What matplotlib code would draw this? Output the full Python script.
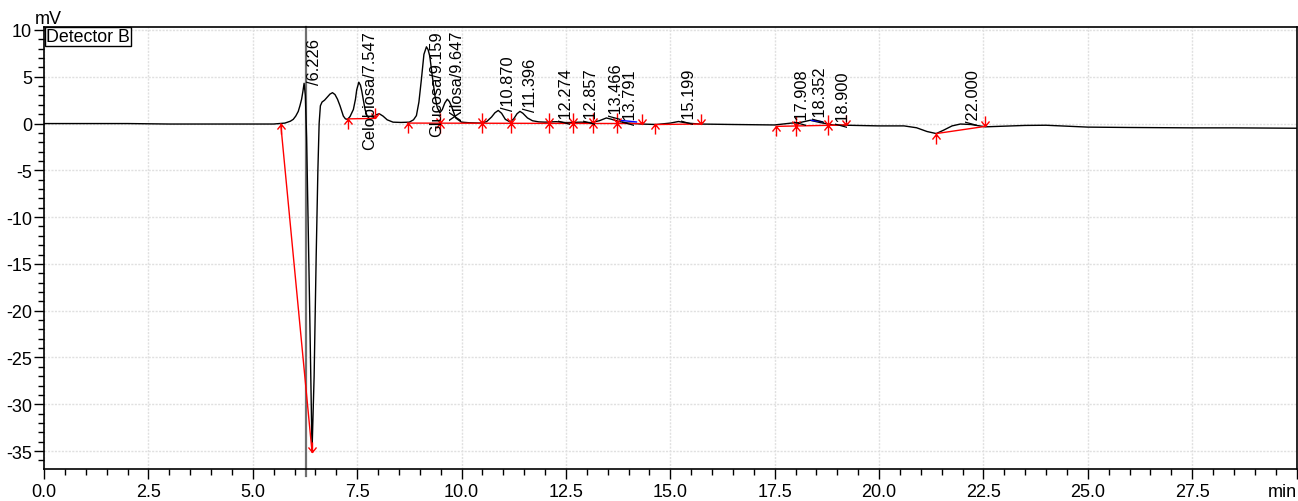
import numpy as np
import matplotlib
matplotlib.use("Agg")
import matplotlib.pyplot as plt
from matplotlib.path import Path
from matplotlib.markers import MarkerStyle
from matplotlib import transforms

plt.rcParams['font.family'] = ['Liberation Sans', 'DejaVu Sans']
plt.rcParams['axes.unicode_minus'] = False

# ---- chromatogram trace (time in min, signal in mV) ----
time = [0.0, 1.0, 2.0, 3.0, 4.0, 5.0, 5.5, 5.77, 5.9, 5.97, 6.03, 6.09, 6.13, 6.17, 6.2, 6.23,
        6.26, 6.29, 6.32, 6.36, 6.39, 6.42, 6.45, 6.47, 6.52, 6.56, 6.59, 6.62, 6.66, 6.72, 6.78,
        6.85, 6.91, 6.97, 7.03, 7.09, 7.17, 7.22, 7.27, 7.33, 7.41, 7.46, 7.49, 7.54, 7.58, 7.61,
        7.65, 7.69, 7.74, 7.80, 7.88, 7.96, 8.03, 8.12, 8.22, 8.36, 8.55, 8.75, 8.85, 8.92, 8.98,
        9.04, 9.10, 9.16, 9.20, 9.24, 9.32, 9.37, 9.42, 9.48, 9.54, 9.60, 9.66, 9.71, 9.76, 9.86,
        10.0, 10.2, 10.45, 10.6, 10.72, 10.8, 10.88, 10.96, 11.05, 11.16, 11.25, 11.33, 11.40,
        11.47, 11.58, 11.70, 11.85, 12.0, 12.27, 12.5, 12.86, 13.1, 13.3, 13.47, 13.6, 13.79,
        14.0, 14.3, 14.67, 15.0, 15.2, 15.4, 15.7, 16.5, 17.5, 17.9, 18.1, 18.35, 18.6, 18.9,
        19.5, 20.0, 20.6, 20.9, 21.15, 21.37, 21.55, 21.75, 21.95, 22.2, 22.55, 23.0, 23.5,
        24.0, 24.5, 25.0, 26.0, 27.5, 28.5, 30.0]
signal = [0.0, 0.0, 0.0, -0.05, -0.05, -0.05, -0.05, 0.05, 0.25, 0.45, 0.8, 1.3, 1.9, 2.6, 3.4, 4.3,
          3.0, -1.5, -9.0, -19.0, -27.3, -35.0, -30.0, -27.0, -14.0, -5.0, 0.0, 1.9, 2.3, 2.5, 2.8,
          3.15, 3.3, 3.1, 2.6, 1.9, 0.8, 0.5, 0.45, 0.75, 1.5, 2.6, 3.6, 4.42, 4.1, 3.5,
          2.5, 1.5, 0.8, 0.5, 0.6, 0.95, 1.05, 0.8, 0.4, 0.15, 0.12, 0.15, 0.4, 0.85, 2.3,
          4.75, 7.4, 8.2, 7.9, 7.2, 4.4, 2.8, 1.7, 1.14, 1.5, 2.2, 2.6, 2.35, 1.85, 0.6,
          0.15, 0.08, 0.05, 0.2, 0.7, 1.15, 1.4, 1.1, 0.45, 0.18, 0.5, 1.05, 1.3,
          1.1, 0.6, 0.3, 0.18, 0.15, 0.2, 0.1, 0.15, 0.1, 0.3, 0.6, 0.45, 0.2,
          0.05, -0.05, -0.1, 0.05, 0.22, 0.05, -0.05, -0.1, -0.15, 0.05, 0.1, 0.35, 0.1, -0.15,
          -0.2, -0.25, -0.25, -0.45, -0.85, -1.07, -0.7, -0.25, -0.05, -0.1, -0.35, -0.28, -0.2,
          -0.18, -0.28, -0.38, -0.42, -0.46, -0.46, -0.5]

# ---- peak annotations ----
peak_rt = [6.226, 7.547, 9.159, 9.647, 10.870, 11.396, 12.274, 12.857, 13.466, 13.791,
           15.199, 17.908, 18.352, 18.900, 22.000]
peak_name = ["", "Celobiosa", "Glucosa", "Xilosa", "", "", "", "", "", "",
             "", "", "", "", ""]
peak_height = [4.2, 4.42, 8.2, 2.6, 1.4, 1.3, 0.1, 0.1, 0.6, -0.05,
               0.1, -0.05, 0.3, -0.25, -0.05]

# ---- integration baselines (start t, start v, end t, end v) ----
base_t0 = [5.67, 7.27, 8.71, 14.64, 17.54, 21.37]
base_v0 = [-0.05, 0.5, 0.05, -0.1, -0.3, -1.07]
base_t1 = [6.42, 7.92, 14.33, 15.74, 19.22, 22.55]
base_v1 = [-35.1, 0.55, 0.0, -0.05, -0.15, -0.3]

# peak start / end / start+end markers
up_t = [5.67, 7.27, 8.71, 14.64, 17.54, 21.37]
up_v = [-0.05, 0.5, 0.05, -0.1, -0.3, -1.07]
down_t = [6.42, 7.92, 14.33, 15.74, 19.22, 22.55]
down_v = [-35.1, 0.55, 0.0, -0.05, -0.15, -0.3]
star_t = [9.48, 10.48, 11.18, 12.10, 12.66, 13.15, 13.73, 18.02, 18.79]
star_v = [0.05, 0.04, 0.03, 0.02, 0.02, 0.01, 0.01, -0.25, -0.2]

# tangent skim segments (blue)
skim_t0 = [13.79, 18.38]
skim_v0 = [0.35, 0.35]
skim_t1 = [14.19, 18.64]
skim_v1 = [0.17, 0.2]

cursor_t = 6.27

xticks = [0.0, 2.5, 5.0, 7.5, 10.0, 12.5, 15.0, 17.5, 20.0, 22.5, 25.0, 27.5, 30.0]
xticklabels = ["0.0", "2.5", "5.0", "7.5", "10.0", "12.5", "15.0", "17.5", "20.0",
               "22.5", "25.0", "27.5", "min"]
yticks = [-35, -30, -25, -20, -15, -10, -5, 0, 5, 10]

W, H = 1298, 502
fig = plt.figure(figsize=(W / 100, H / 100), dpi=100)
ax = fig.add_axes([44 / W, 1 - 470 / H, (1296.5 - 44) / W, (470 - 28) / H])
ax.set_xlim(0, 30)
ax.set_ylim(-36.92, 10.32)

ax.set_xticks(xticks)
ax.set_xticklabels(xticklabels)
ax.get_xticklabels()[-1].set_horizontalalignment('right')
ax.set_xticks(np.arange(0, 30.01, 0.5), minor=True)
ax.set_yticks(yticks)
ax.set_yticklabels([str(v) for v in yticks])
ax.set_yticks(np.arange(-36, 10.5, 1), minor=True)
ax.tick_params(axis='both', which='major', length=7, width=1, labelsize=13, direction='out')
ax.tick_params(axis='both', which='minor', length=4.5, width=1, direction='out')
ax.tick_params(axis='x', pad=3)
ax.tick_params(axis='y', pad=1.5)
ax.grid(True, which='major', color='#e0e0e0', linestyle=(0, (1.5, 1)), linewidth=1)
ax.set_axisbelow(True)
for s in ax.spines.values():
    s.set_linewidth(1.2)
    s.set_color('black')

# cursor line
ax.axvline(cursor_t, ymin=-0.015, ymax=1, color='#707070', lw=1.6, clip_on=False, zorder=2)

# trace
ax.plot(time, signal, color='black', lw=1.0, zorder=3)

# baselines
for t0, v0, t1, v1 in zip(base_t0, base_v0, base_t1, base_v1):
    ax.plot([t0, t1], [v0, v1], color='red', lw=1.0, zorder=4)
for t0, v0, t1, v1 in zip(skim_t0, skim_v0, skim_t1, skim_v1):
    ax.plot([t0, t1], [v0, v1], color='blue', lw=1.0, zorder=4)

M, L = Path.MOVETO, Path.LINETO
up_path = Path([(0, 0), (0, -1), (-0.4, -0.5), (0, 0), (0.4, -0.5)], [M, L, M, L, L])
down_path = Path([(0, 0), (0, 1), (-0.4, 0.5), (0, 0), (0.4, 0.5)], [M, L, M, L, L])
star_path = Path([(0, -1), (0, 1), (-0.4, 0.5), (0, 0), (0.4, 0.5), (-0.4, -0.5), (0, 0), (0.4, -0.5)],
                 [M, L, M, L, L, M, L, L])
mk = dict(linestyle='none', markersize=14.5, markeredgecolor='red', markerfacecolor='none',
          markeredgewidth=1.0, zorder=5)
ax.plot(up_t, up_v, marker=MarkerStyle(up_path), **mk)
ax.plot(down_t, down_v, marker=MarkerStyle(down_path), **mk)
ax.plot(star_t, star_v, marker=MarkerStyle(star_path), **mk)

# peak labels
label_tr = transforms.offset_copy(ax.transData, fig=fig, x=3, y=0, units='dots')
texts = []
for rt, name, h in zip(peak_rt, peak_name, peak_height):
    txt = f"{name}/{rt:.3f}"
    t = ax.text(rt, h, txt, rotation=90, ha='left', va='bottom', fontsize=11.8, zorder=6,
                transform=label_tr)
    texts.append(t)
fig.canvas.draw()
inv = ax.transData.inverted()
for t in texts:
    bb = t.get_window_extent()
    top = inv.transform((bb.x1, bb.y1))[1]
    if top > 9.95:
        t.set_va('top')
        t.set_y(10.0)

ax.text(0.0015, 0.997, "Detector B", transform=ax.transAxes, ha='left', va='top', fontsize=12.8,
        zorder=7, bbox=dict(boxstyle='square,pad=0.06', fc='white', ec='black', lw=1))
fig.text(35 / W, 1 - 19 / H, "mV", ha='left', va='center', fontsize=13)

fig.savefig("out.png", dpi=100)
